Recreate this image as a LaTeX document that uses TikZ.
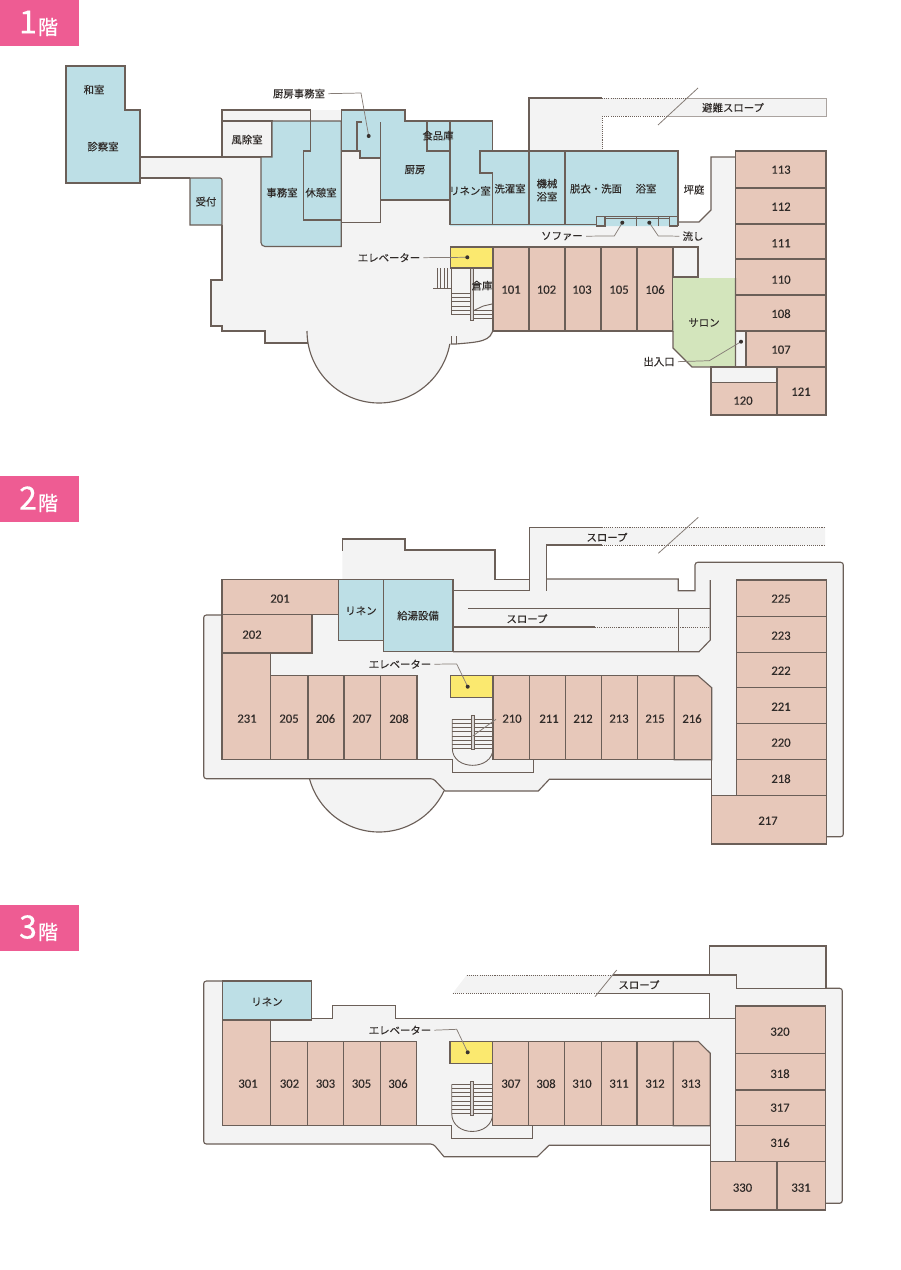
\documentclass[tikz,border=0pt]{standalone}
\usepackage{fontspec}
\newfontfamily\jp[FakeBold=0.12]{Noto Sans CJK JP}
\newfontfamily\jpb[FakeBold=0.5]{Noto Sans CJK JP}
\newfontfamily\dg[FakeBold=0.1]{Carlito}
\definecolor{wall}{HTML}{6B5F58}
\definecolor{flr}{HTML}{F3F3F3}
\definecolor{blu}{HTML}{BDDFE6}
\definecolor{rose}{HTML}{E7C8BA}
\definecolor{grn}{HTML}{D3E5BC}
\definecolor{yel}{HTML}{FBE96F}
\definecolor{tag}{HTML}{EE5C93}
\definecolor{ink}{HTML}{2F2A28}
\definecolor{lead}{HTML}{857C76}
\tikzset{
  ln/.style={draw=wall,line width=0.85pt,line join=miter},
  thin wall/.style={draw=wall,line width=0.65pt},
  lite/.style={draw=lead!70,line width=0.6pt},
  dots/.style={draw=wall,line width=0.7pt,dash pattern=on 0.8pt off 0.8pt},
  lead line/.style={draw=lead,line width=0.55pt},
  brk/.style={draw=lead,line width=0.6pt},
  jpl/.style={text=ink,inner sep=0pt,align=center,yshift=-0.5pt,font=\jp\fontsize{7.8pt}{9.8pt}\selectfont},
  num/.style={text=ink,inner sep=0pt,yshift=-0.5pt,font=\dg\fontsize{9.5pt}{10pt}\selectfont},
  ttag/.style={fill=tag,draw=none},
  big/.style={text=white,inner sep=0pt,font=\jpb\fontsize{24pt}{24pt}\selectfont},
  kai/.style={text=white,inner sep=0pt,font=\jpb\fontsize{15pt}{15pt}\selectfont},
  postbar/.style={fill=flr!80!wall,draw=wall,line width=0.6pt},
}
\newcommand{\Rm}[7]{\path[ln,fill=rose] (#1,#2) rectangle (#3,#4); \node[num] (r#7) at (#5,#6) {#7};}
\newcommand{\Dot}[2]{\fill[ink!85!wall] (#1,#2) circle (1.5pt);}
\begin{document}
\begin{tikzpicture}[x=0.75pt,y=-0.75pt]
\useasboundingbox (0,0) rectangle (900,1270);
% ---------- tags
\fill[ttag] (0,0) rectangle (79,46);
\fill[ttag] (0,476) rectangle (79,522);
\fill[ttag] (0,905) rectangle (79,951);
\node[big] (f1) at (28,22) {1}; \node[kai] (k1) at (48,27) {階};
\node[big] (f2) at (28,498) {2}; \node[kai] (k2) at (48,503) {階};
\node[big] (f3) at (28,927) {3}; \node[kai] (k3) at (48,932) {階};

% ================= FLOOR 1
\fill[flr] (602,98) rectangle (826,116);
\draw[lite] (687,98) -- (826,98) -- (826,116) -- (667,116);
\fill[flr] (140,157) -- (222,157) -- (222,110) -- (341,110) -- (341,122) -- (492,122) -- (492,151)
  -- (529,151) -- (529,98) -- (602,98) -- (602,151) -- (678,151) -- (678,222) -- (699,222) -- (711,210)
  -- (711,157) -- (735,157) -- (735,367) -- (692,367) -- (673,348) -- (673,331) -- (493,331)
  .. controls (493,342) and (478,342) .. (456,344) -- (450,344)
  -- plot[domain=10.4:180,samples=60] ({379+72*cos(\x)},{331+72*sin(\x)})
  -- (307,343) -- (265,343) -- (265,331) -- (222,331) -- (222,326) -- (211,326) -- (211,280)
  -- (222,280) -- (222,225) -- (190,225) -- (190,178) -- (140,178) -- cycle;
% outer walls
\draw[ln] (140,178) -- (190,178);
\draw[ln] (222,225) -- (222,280) -- (211,280) -- (211,326) -- (222,326) -- (222,331) -- (265,331) -- (265,343) -- (308,343);
\draw[ln] plot[domain=10.4:180,samples=60] ({379+72*cos(\x)},{331+72*sin(\x)});
\draw[ln] (493,327) .. controls (493,342) and (478,342) .. (456,344) -- (450.5,344);
\draw[thin wall] (451,336) -- (451,344) (456,336) -- (456,344);
\draw[ln] (529,151) -- (529,98) -- (602,98);
\draw[dots] (602,98) -- (687,98) (602,116) -- (667,116) (602,116) -- (602,151);
\draw[brk] (698,88) -- (658,125);
\draw[ln] (678,222) -- (699,222) -- (711,210) -- (711,157) -- (735,157);
\draw[ln,fill=flr] (673,247) -- (698,247) -- (698,277) -- (673,277);
% clinic
\path[ln,fill=blu] (66,66) -- (125,66) -- (125,110) -- (140,110) -- (140,183) -- (66,183) -- cycle;
\draw[ln] (140,157) -- (222,157) -- (222,110) -- (310.5,110);
\draw[ln,fill=flr] (222,121) rectangle (272,157);
% reception
\path[ln,fill=blu] (190,178) [rounded corners=1.5pt] -- (222,178) [sharp corners] -- (222,225) -- (190,225) -- cycle;
% office
\path[ln,fill=blu] (272,121) -- (341.3,121) -- (341.3,246.5) -- (266,246.5) [rounded corners=3pt] -- (261,246.5) -- (261,230) [sharp corners] -- (261,157) -- (272,157) -- cycle;
\draw[ln] (310.5,110) -- (310.5,151) -- (303.3,151) -- (303.3,220) -- (341.3,220);
% kitchen + bath block
\path[fill=blu] (341.3,110) -- (405,110) -- (405,121) -- (492.5,121) -- (492.5,151) -- (678,151) -- (678,226) -- (450,226) -- (450,200) -- (380.3,200) -- (380.3,158) -- (360,158) -- (360,151) -- (341.3,151) -- cycle;
\draw[ln] (341.3,151) -- (341.3,110) -- (405,110) -- (405,121) -- (492.5,121) -- (492.5,151) -- (480,151) -- (480,173) -- (492.7,173) -- (492.7,224.5);
\draw[ln] (480,151) -- (678,151) -- (678,226);
\draw[ln] (341.3,151) -- (360,151) -- (360,158) -- (380.3,158);
\draw[ln] (380.3,122) -- (380.3,222.3) -- (341.3,222.3);
\draw[ln] (362,122) -- (357,122) -- (357,151);
\draw[ln] (380.3,200) -- (450,200);
\draw[ln] (427,121) -- (427,151) -- (450,151);
\draw[ln] (450,121) -- (450,224.3) -- (596.5,224.3);
\draw[ln] (529,151) -- (529,224.3) (565,151) -- (565,224.3);
% shower fittings
\draw[ln] (605,216.7) -- (669.3,216.7);
\draw[thin wall] (605,218.6) -- (669.3,218.6);
\draw[ln] (596.3,216.7) rectangle (605,226);
\draw[ln] (669.3,216.7) rectangle (677.7,226);
\draw[ln] (636.7,217) -- (636.7,226) (658.3,217) -- (658.3,226);
% elevator
\path[ln,fill=yel] (450.5,247) rectangle (492.7,268);
% stairs 1F
\draw[thin wall] (437.3,268) -- (437.3,288) (440.7,268) -- (440.7,288) (444,268) -- (444,288) (447.3,268) -- (447.3,288);
\draw[thin wall] (433.3,288.3) -- (451.7,288.3);
\draw[thin wall] (451.7,268) -- (451.7,315);
\foreach \y in {293.3,297.7,301.7,306,310,314.3}{\draw[thin wall] (451.7,\y) -- (470,\y);}
\foreach \y in {310,314.3,318.3}{\draw[thin wall] (473.3,\y) -- (493,\y);}
\draw[thin wall] (473.3,310.7) -- (483.3,306) -- (492,304);
\path[postbar] (470,268.3) rectangle (473.3,320);
% rooms row
\Rm{493}{247}{529}{331}{511}{289}{101}
\Rm{529}{247}{565}{331}{546.5}{289}{102}
\Rm{565}{247}{601}{331}{582}{289}{103}
\Rm{601}{247}{637}{331}{619}{289}{105}
\Rm{637}{247}{673}{331}{655}{289}{106}
\Rm{735.5}{151}{826}{188}{781}{169}{113}
\Rm{735.5}{188}{826}{224}{781}{206}{112}
\Rm{735.5}{224}{826}{259}{781}{242.5}{111}
\Rm{735.5}{259}{826}{295}{781}{279}{110}
\Rm{735.5}{295}{826}{331}{781}{313}{108}
\Rm{746}{331}{826}{367}{781}{349}{107}
\draw[ln,fill=flr] (735.5,331) rectangle (746,367);
\path[fill=grn] (673,278) -- (735,278) -- (735,366.5) -- (692,366.5) -- (673.4,348) -- cycle;
\draw[ln] (735.5,278) -- (735.5,367) -- (692,367) -- (673,348) -- (673,331);
\draw[ln,fill=flr] (711,367) rectangle (777,382.5);
\Rm{711}{382.5}{777}{415}{743}{400}{120}
\Rm{777}{367}{826}{415}{801}{391}{121}
% labels 1F
\node[jpl] (wa) at (94,89) {和室};
\node[jpl] (shin) at (103,146) {診察室};
\node[jpl] (fu) at (247,139) {風除室};
\node[jpl] (uke) at (206,201) {受付};
\node[jpl] (jim) at (282,192) {事務室};
\node[jpl] (kyu) at (321,192) {休憩室};
\node[jpl] (chu) at (415,169) {厨房};
\node[jpl] (sho) at (438,135) {食品庫};
\node[jpl] (rin1) at (470,190) {リネン室};
\node[jpl] (sen) at (510,188) {洗濯室};
\node[jpl] (kik) at (547,189.5) {機械\\浴室};
\node[jpl] (dat) at (596,188) {脱衣・洗面};
\node[jpl] (yok) at (646,188) {浴室};
\node[jpl] (tsu) at (694,189) {坪庭};
\node[jpl] (hin) at (733,107) {避難スロープ};
\node[jpl] (chj) at (299,93) {厨房事務室};
\node[jpl] (ev1) at (389,257) {エレベーター};
\node[jpl] (sof) at (562,235.5) {ソファー};
\node[jpl] (nag) at (693,235.5) {流し};
\node[jpl] (dei) at (659,361) {出入口};
\node[jpl] (sal) at (704,322) {サロン};
\node[jpl] (sou) at (482,285) {倉庫};
% leaders 1F
\draw[lead line] (chj.east) ++(3,0) -- (361,93) -- (368.7,136);
\Dot{368.7}{136}
\draw[lead line] (ev1.east) ++(3,0) -- (467.3,257.3);
\Dot{467.3}{257.3}
\draw[lead line] (sof.east) ++(3,0) -- (614.3,236) -- (622.3,222.7);
\Dot{622.3}{222.7}
\draw[lead line] (nag.west) ++(-3,0) -- (658.3,236) -- (649.3,222.7);
\Dot{649.3}{222.7}
\draw[lead line] (dei.east) ++(3,0) -- (709.3,360.7) -- (741,341.7);
\Dot{741}{341.7}

% ================= FLOOR 2
% dome
\fill[flr] (312,775) -- plot[domain=165:25.5,samples=50] ({379+72*cos(\x)},{760+72*sin(\x)}) -- (440,775) -- cycle;
\draw[ln] plot[domain=165:25.5,samples=50] ({379+72*cos(\x)},{760+72*sin(\x)});
\fill[flr] (342.3,539) -- (405,539) -- (405,550) -- (495,550) -- (495,579.3) -- (529.3,579.3) -- (529.3,527.3) -- (825,527.3) -- (825,545) -- (546.7,545) -- (546.7,579) -- (678.3,579) -- (678.3,590.7) -- (695,590.7) -- (695,562.3) -- (843.3,562.3) -- (843.3,836.7) -- (826.3,836.7) -- (826.3,844) -- (711.7,844) -- (711.7,779.3) -- (549.3,779.3) -- (538.3,791) -- (445,791) -- (433.3,778.7) -- (203.7,778.7) -- (203.7,615) -- (222,615) -- (222,579) -- (342.3,579) -- cycle;
\draw[ln] (342.3,550.7) -- (342.3,539) -- (405,539) -- (405,550) -- (495,550) -- (495,579.3) -- (529.3,579.3);
\draw[ln] (453,590.5) -- (529.3,590.5);
\draw[ln] (529.3,590.7) -- (529.3,527.3) -- (601.7,527.3);
\draw[ln] (546.7,590.7) -- (546.7,545) -- (601.7,545);
\draw[dots] (601.7,527.3) -- (825,527.3) (601.7,545) -- (825,545);
\draw[brk] (698.3,517.3) -- (658.3,553.3);
\draw[ln] (546.7,579) -- (678.3,579) -- (678.3,590.7) -- (695,590.7) [rounded corners=2pt] -- (695,562.3) -- (843.3,562.3) -- (843.3,836.7) -- (826.3,836.7);
\draw[ln] (222,615) [rounded corners=2pt] -- (203.7,615) -- (203.7,778.7) -- (433.3,778.7) [sharp corners] -- (445,791) -- (538.3,791) -- (549.3,779.3) -- (711.7,779.3);
\draw[ln] (468.3,608.7) -- (710.3,608.7);
\draw[ln] (453,627) -- (595,627);
\draw[dots] (595,627) -- (710.3,627);
\draw[ln] (678.3,608.7) -- (678.3,651.7);
\draw[ln] (710.3,580) -- (710.3,640) -- (699,651.7) -- (453,651.7);
\draw[ln] (417,759.5) -- (452.3,759.5) -- (452.3,772.3) -- (533.3,772.3) -- (533.3,759.5);
% stairs 2F
\foreach \y in {719.3,723.3,727.7,731.7,736,740,744.3,748.3}{\draw[thin wall] (452.3,\y) -- (493,\y);}
\draw[thin wall] (452.3,719.3) -- (452.3,748.3) .. controls (452.3,771) and (493,771) .. (493,748.3);
\path[postbar] (471,715.7) rectangle (474.3,749.3);
% rooms 2F
\Rm{222}{579.3}{338.3}{614.5}{280}{598}{201}
\Rm{222}{614.5}{312}{653}{252}{634}{202}
\path[ln,fill=rose] (222,653) rectangle (270.7,759.5); \node[num] (r231) at (247,718) {231};
\Rm{270.7}{675.5}{308}{759.5}{289}{718}{205}
\Rm{308}{675.5}{344}{759.5}{325.5}{718}{206}
\Rm{344}{675.5}{380.7}{759.5}{362}{718}{207}
\Rm{380.7}{675.5}{417}{759.5}{399}{718}{208}
\path[ln,fill=blu] (338.3,579.3) rectangle (383.7,640.7);
\path[ln,fill=blu] (383.7,579.3) rectangle (453,651.7);
\path[ln,fill=yel] (450.7,675.7) rectangle (493,697.3);
\Rm{493}{675.7}{529.3}{759.7}{512}{718}{210}
\Rm{529.3}{675.7}{565.3}{759.7}{549}{718}{211}
\Rm{565.3}{675.7}{601.3}{759.7}{583}{718}{212}
\Rm{601.3}{675.7}{637.7}{759.7}{619}{718}{213}
\Rm{637.7}{675.7}{674.3}{759.7}{655}{718}{215}
\path[ln,fill=rose] (674.3,675.7) -- (698,675.7) -- (711.7,687.7) -- (711.7,759.7) -- (674.3,759.7) -- cycle;
\node[num] (r216) at (692,718) {216};
\draw[ln] (711.7,687.7) -- (711.7,795.7);
\Rm{736.3}{580}{826.3}{616.7}{781}{598}{225}
\Rm{736.3}{616.7}{826.3}{652.7}{781}{635}{223}
\Rm{736.3}{652.7}{826.3}{687.3}{781}{670}{222}
\Rm{736.3}{687.3}{826.3}{723.7}{781}{706}{221}
\Rm{736.3}{723.7}{826.3}{759.7}{781}{742}{220}
\Rm{736.3}{759.7}{826.3}{795.7}{781}{778}{218}
\Rm{711.7}{795.7}{826.3}{844}{768}{820}{217}
\draw[brk] (496,719.3) -- (472.7,736);
\node[jpl] (rin2) at (361,610) {リネン};
\node[jpl] (kyt) at (418,615) {給湯設備};
\node[jpl] (sl2a) at (607,536.5) {スロープ};
\node[jpl] (sl2b) at (527,618) {スロープ};
\node[jpl] (ev2) at (400,663.5) {エレベーター};
\draw[lead line] (ev2.east) ++(3,0) -- (456.7,664) -- (467.7,686.7);
\Dot{467.7}{686.7}

% ================= FLOOR 3
\fill[flr] (709.7,946) -- (826,946) -- (826,988.3) -- (842.3,988.3) -- (842.3,1203.3) -- (825.7,1203.3) -- (825.7,1210) -- (710.7,1210) -- (710.3,1145.3) -- (549,1145.3) -- (537.3,1156.7) -- (444,1156.7) -- (433.3,1144) -- (203.7,1144) -- (203.7,981) -- (222.3,981) -- (311.7,981) -- (311.7,1018.3) -- (332.7,1018.3) -- (332.7,1005.7) -- (395.7,1005.7) -- (395.7,1018.3) -- (709.7,1018.3) -- (709.7,993.3) -- (452.7,993.3) -- (466.7,975) -- (709.7,975) -- cycle;
\draw[ln] (709.7,975) -- (709.7,946) -- (826,946) -- (826,988.3);
\draw[ln] (613.3,975) -- (709.7,975) -- (736.7,975) -- (736.7,988.3) -- (826,988.3);
\draw[ln] (826,988.3) [rounded corners=2pt] -- (842.3,988.3) -- (842.3,1203.3) -- (825.7,1203.3);
\draw[ln] (596.7,993.3) -- (709.7,993.3) -- (709.7,1018.3);
\draw[dots] (466.7,975) -- (613.3,975) (452.7,993.3) -- (596.7,993.3);
\draw[brk] (616.7,970) -- (595,996.7);
\draw[ln] (311.7,1018.3) -- (332.7,1018.3) -- (332.7,1005.7) -- (395.7,1005.7) -- (395.7,1018.3) -- (735.3,1018.3);
\draw[ln] (222.3,981) [rounded corners=2pt] -- (203.7,981) -- (203.7,1144) -- (433.3,1144) [sharp corners] -- (444,1156.7) -- (537.3,1156.7) -- (549,1145.3) -- (710.3,1145.3);
\draw[ln] (416.7,1125.7) -- (451.7,1125.7) -- (451.7,1138.3) -- (532.7,1138.3) -- (532.7,1125.7);
% stairs 3F
\foreach \y in {1084.3,1088.3,1092.7,1096.7,1101,1105,1109.3,1113.3}{\draw[thin wall] (451.7,\y) -- (492.7,\y);}
\draw[thin wall] (451.7,1084.3) -- (451.7,1113.3) .. controls (451.7,1137.5) and (492.7,1137.5) .. (492.7,1113.3);
\path[postbar] (470,1081.7) rectangle (473.3,1115.7);
% rooms 3F
\path[ln,fill=blu] (222.3,981) rectangle (311.7,1020);
\path[ln,fill=rose] (222.3,1020) rectangle (270.7,1125.7); \node[num] (r301) at (248,1083) {301};
\Rm{270.7}{1041.3}{307.7}{1125.7}{289.5}{1083}{302}
\Rm{307.7}{1041.3}{343.7}{1125.7}{325.5}{1083}{303}
\Rm{343.7}{1041.3}{380.3}{1125.7}{361.5}{1083}{305}
\Rm{380.3}{1041.3}{416.7}{1125.7}{398}{1083}{306}
\path[ln,fill=yel] (450,1041.7) rectangle (492.7,1063.3);
\Rm{492.7}{1041.5}{528.7}{1125.7}{511}{1083}{307}
\Rm{528.7}{1041.5}{564.7}{1125.7}{546}{1083}{308}
\Rm{564.7}{1041.5}{601.3}{1125.7}{582}{1083}{310}
\Rm{601.3}{1041.5}{637}{1125.7}{619}{1083}{311}
\Rm{637}{1041.5}{673.3}{1125.7}{655}{1083}{312}
\path[ln,fill=rose] (673.3,1041.5) -- (698.3,1041.5) -- (710.3,1053.3) -- (710.3,1125.7) -- (673.3,1125.7) -- cycle;
\node[num] (r313) at (691,1083) {313};
\draw[ln] (710.3,1125.7) -- (710.3,1161.3);
\Rm{735.3}{1006}{825.7}{1053.7}{780}{1031}{320}
\Rm{735.3}{1053.7}{825.7}{1090}{780}{1073}{318}
\Rm{735.3}{1090}{825.7}{1125.7}{780}{1107}{317}
\Rm{735.3}{1125.7}{825.7}{1161.3}{780}{1142}{316}
\Rm{710.7}{1161.3}{777}{1210}{742.5}{1187}{330}
\Rm{777}{1161.3}{825.7}{1210}{801}{1187}{331}
\node[jpl] (rin3) at (267,1001) {リネン};
\node[jpl] (sl3) at (639,984) {スロープ};
\node[jpl] (ev3) at (400,1029.5) {エレベーター};
\draw[lead line] (ev3.east) ++(3,0) -- (456.7,1029.3) -- (467.7,1052.3);
\Dot{467.7}{1052.3}
\end{tikzpicture}
\end{document}
